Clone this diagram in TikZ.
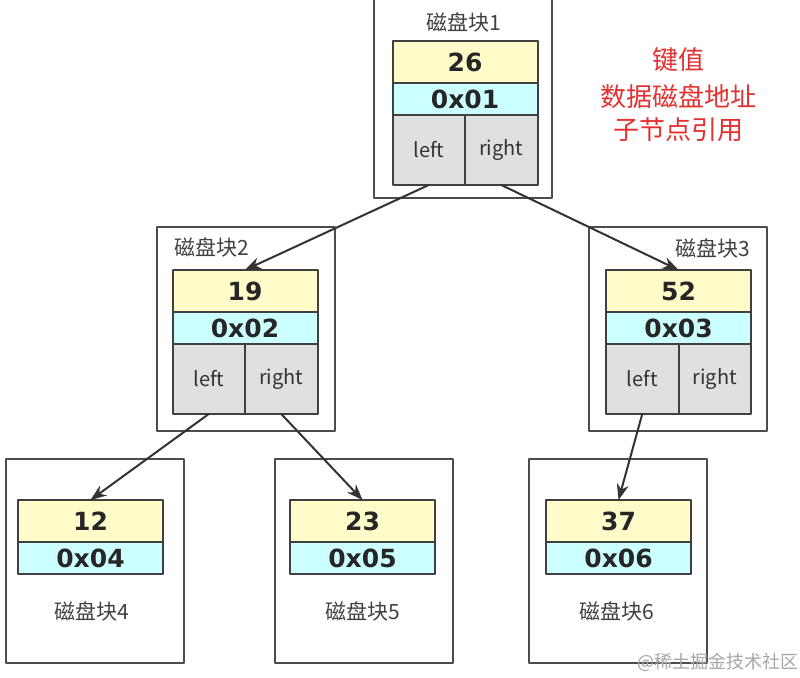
\documentclass[tikz,border=0pt]{standalone}
\usepackage{fontspec}
\setmainfont{DejaVu Sans}
\newfontfamily\cjk{Noto Sans CJK SC}
\usetikzlibrary{arrows.meta,positioning}
\definecolor{keyyellow}{RGB}{255,252,202}
\definecolor{addrcyan}{RGB}{204,255,255}
\definecolor{ptrgray}{RGB}{224,224,224}
\definecolor{notered}{RGB}{228,48,48}
\begin{document}
\begin{tikzpicture}[x=1pt,y=-1pt,line join=round,
	blk/.style={draw=black!70,line width=2pt,minimum width=178pt,minimum height=204pt,inner sep=0pt,outer sep=0pt},
	keycell/.style={draw=black!75,line width=2pt,fill=keyyellow,minimum width=145pt,minimum height=42pt,inner sep=0pt,outer sep=0pt,font=\fontsize{25}{25}\selectfont\bfseries,text=black!85},
	addrcell/.style={keycell,fill=addrcyan,minimum height=32pt},
	ptrcell/.style={keycell,fill=ptrgray,minimum width=72.5pt,minimum height=70pt,font=\cjk\fontsize{20}{20}\selectfont,text=black!80},
	blklabel/.style={font=\cjk\fontsize{21}{21}\selectfont,text=black!75},
	link/.style={draw=black!80,line width=2pt,line cap=round,-{Stealth[length=16pt,width=12pt]}},
	note/.style={font=\cjk\fontsize{26}{26}\selectfont,text=notered,align=center}]
	\fill[white] (0,0) rectangle (800,677);
	\useasboundingbox (0,0) rectangle (800,677);
	% root
	\node[blk] (b1) at (462.5,96) {};
	\node[blklabel] (t1) at (464,22) {磁盘块1};
	\node[keycell] (k1) at (465,62) {26};
	\node[addrcell,below=0pt of k1] (a1) {0x01};
	\node[ptrcell,anchor=north west] (l1) at (a1.south west) {left};
	\node[ptrcell,anchor=north east] (r1) at (a1.south east) {right};
	% second level
	\node[blk] (b2) at (246,328.5) {};
	\node[blklabel] (t2) at (212,247) {磁盘块2};
	\node[keycell] (k2) at (245,291) {19};
	\node[addrcell,below=0pt of k2] (a2) {0x02};
	\node[ptrcell,anchor=north west] (l2) at (a2.south west) {left};
	\node[ptrcell,anchor=north east] (r2) at (a2.south east) {right};
	\node[blk] (b3) at (677.5,328.5) {};
	\node[blklabel] (t3) at (713,248) {磁盘块3};
	\node[keycell] (k3) at (678.5,291) {52};
	\node[addrcell,below=0pt of k3] (a3) {0x03};
	\node[ptrcell,anchor=north west] (l3) at (a3.south west) {left};
	\node[ptrcell,anchor=north east] (r3) at (a3.south east) {right};
	% leaves
	\node[blk] (b4) at (94.5,560.5) {};
	\node[keycell] (k4) at (90.5,521) {12};
	\node[addrcell,below=0pt of k4] (a4) {0x04};
	\node[blklabel] (t4) at (92,611) {磁盘块4};
	\node[blk] (b5) at (363.5,560.5) {};
	\node[keycell] (k5) at (362.5,521) {23};
	\node[addrcell,below=0pt of k5] (a5) {0x05};
	\node[blklabel] (t5) at (363,611) {磁盘块5};
	\node[blk] (b6) at (617.5,560.5) {};
	\node[keycell] (k6) at (618.5,521) {37};
	\node[addrcell,below=0pt of k6] (a6) {0x06};
	\node[blklabel] (t6) at (617,611) {磁盘块6};
	% pointers
	\draw[link] (l1.south) -- (k2.north);
	\draw[link] (r1.south) -- (k3.north);
	\draw[link] (l2.south) -- (k4.north);
	\draw[link] (r2.south) -- (k5.north);
	\draw[link] (l3.south) -- (k6.north);
	% legend
	\node[note] (n1) at (678,60) {键值};
	\node[note] (n2) at (678,97) {数据磁盘地址};
	\node[note] (n3) at (678,130) {子节点引用};
	\node[font=\cjk\fontsize{18}{18}\selectfont,text=black!35] (wm) at (718,662) {@稀土掘金技术社区};
\end{tikzpicture}
\end{document}
